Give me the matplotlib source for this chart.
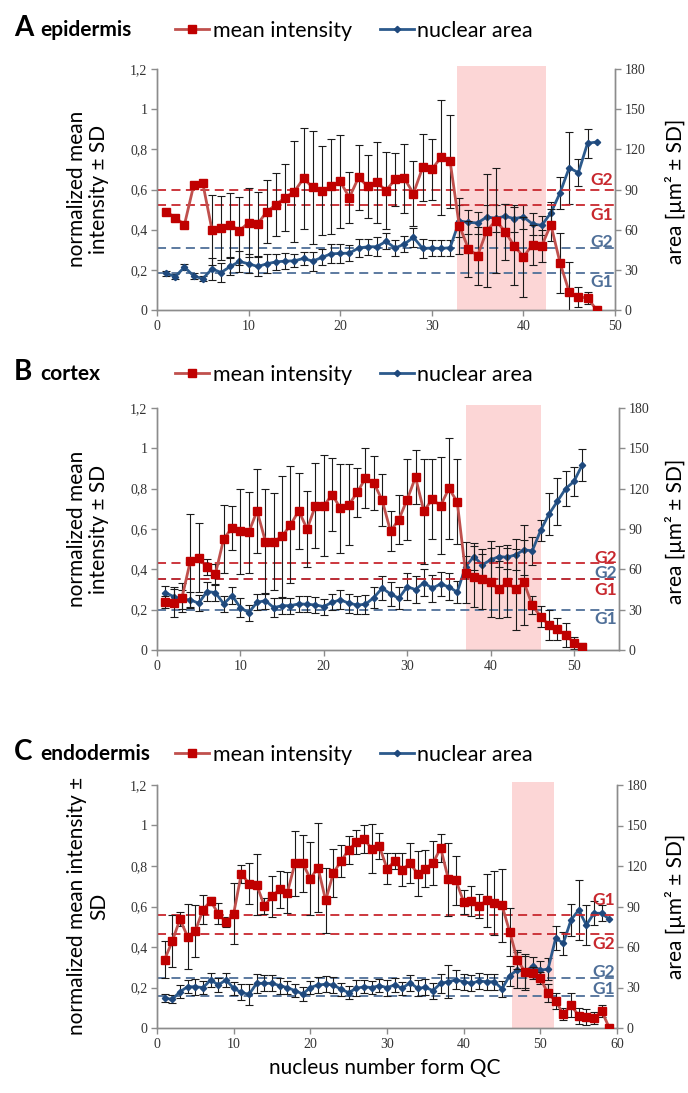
import numpy as np
import matplotlib
matplotlib.use("Agg")
import matplotlib.pyplot as plt
from matplotlib.ticker import FuncFormatter, MultipleLocator
import matplotlib.transforms as mtransforms

plt.rcParams['font.family'] = ['Lato', 'DejaVu Sans']

# ---- A epidermis ----
int_A = [0.49, 0.46, 0.425, 0.62, 0.63, 0.40, 0.41, 0.425, 0.395, 0.435,
         0.43, 0.49, 0.525, 0.56, 0.59, 0.655, 0.61, 0.595, 0.615, 0.64,
         0.56, 0.66, 0.615, 0.635, 0.595, 0.65, 0.655, 0.58, 0.71, 0.70,
         0.76, 0.74, 0.42, 0.305, 0.27, 0.395, 0.445, 0.39, 0.32, 0.265,
         0.325, 0.32, 0.425, 0.235, 0.09, 0.065, 0.06, 0.0]
int_sd_A = [0, 0, 0, 0, 0, 0.175, 0.16, 0.16, 0.17, 0.17,
            0.16, 0.155, 0.155, 0.165, 0.25, 0.25, 0.28, 0.22, 0.235, 0.23,
            0.125, 0.16, 0.155, 0.2, 0.19, 0.13, 0.17, 0.16, 0.165, 0.15,
            0.285, 0.23, 0.14, 0.14, 0.145, 0.28, 0.26, 0.14, 0.195, 0.2,
            0.1, 0.08, 0.08, 0.15, 0.15, 0.05, 0.03, 0]
area_A = [27.3, 25, 32, 25.5, 23.3, 30.75, 28, 32.5, 36.25, 34.5,
          32.5, 34.5, 36, 36.5, 36.75, 38.5, 36.5, 39.25, 42, 42.25,
          42.5, 46.25, 47.25, 47.25, 51.25, 46.25, 49.25, 54.25, 46, 46.25,
          46, 46.5, 66.5, 65.5, 65, 69.5, 68.5, 70, 68.25, 69.5,
          64.25, 63.25, 72.5, 87.5, 106.25, 102.5, 124.5, 125.5]
area_sd_A = [2, 2, 2, 2, 2, 8, 7, 6, 8, 7, 7, 7, 6, 6, 5, 5, 7, 6, 7, 7,
             6, 7, 6, 7, 6, 6, 6, 7, 7, 6, 6, 6, 12, 9, 8, 9, 10, 9, 10, 9,
             8, 7, 8, 12, 27, 10, 11, 0]
thr_A = {'int': (0.6, 0.525), 'area': (46.5, 27.75)}   # (G2, G1)
zone_A = (32.7, 42.5)

# ---- B cortex ----
int_B = [0.237, 0.232, 0.26, 0.442, 0.458, 0.41, 0.376, 0.551, 0.606, 0.588,
         0.583, 0.69, 0.538, 0.538, 0.563, 0.62, 0.69, 0.6, 0.715, 0.715,
         0.77, 0.703, 0.72, 0.781, 0.852, 0.828, 0.743, 0.589, 0.647, 0.746,
         0.857, 0.688, 0.748, 0.715, 0.801, 0.735, 0.384, 0.364, 0.353, 0.336,
         0.301, 0.336, 0.301, 0.336, 0.222, 0.166, 0.124, 0.103, 0.075, 0.036, 0.017]
int_sd_B = [0.03, 0.07, 0.07, 0.23, 0.17, 0.04, 0.05, 0.17, 0.11, 0.21,
            0.2, 0.21, 0.26, 0.24, 0.3, 0.29, 0.19, 0.19, 0.21, 0.25,
            0.18, 0.22, 0.2, 0.12, 0.15, 0.135, 0.13, 0.1, 0.12, 0.2,
            0.135, 0.26, 0.2, 0.24, 0.25, 0.21, 0.15, 0.15, 0.15, 0.17,
            0.14, 0.17, 0.2, 0.21, 0.045, 0.05, 0.075, 0.055, 0.06, 0.03, 0.02]
area_B = [42.7, 39.7, 37.8, 37.3, 34.8, 43.5, 42.7, 34.3, 40.5, 31.5,
          27.8, 35.5, 36.7, 31.5, 33, 33, 34.3, 34, 33.5, 32.3,
          35.5, 37.3, 34.8, 33.5, 34, 39, 46, 41.7, 38.5, 47,
          45, 50, 46, 49, 47, 43, 62, 69.5, 63.3, 67,
          69.5, 69, 70.8, 74.5, 73.8, 88.9, 101, 110.5, 120, 125.4, 137.8]
area_sd_B = [5, 7, 7, 6, 6, 7, 6, 6, 6, 7, 6, 6, 6, 7, 6, 6, 6, 6, 6, 6,
             6, 7, 7, 7, 7, 8, 9, 9, 8, 10, 10, 10, 10, 9, 10, 8, 8, 10, 8, 14,
             7.5, 9, 11.5, 18.6, 10.5, 8, 15.5, 17.6, 12.8, 11, 12]
thr_B = {'int': (0.43, 0.35), 'area': (52.5, 30)}
zone_B = (37.0, 46.0)

# ---- C endodermis ----
int_C = [0.338, 0.43, 0.537, 0.45, 0.479, 0.585, 0.626, 0.565, 0.524, 0.565,
         0.762, 0.713, 0.708, 0.603, 0.65, 0.685, 0.668, 0.814, 0.814, 0.737,
         0.792, 0.63, 0.765, 0.824, 0.88, 0.918, 0.934, 0.885, 0.898, 0.787,
         0.823, 0.782, 0.814, 0.762, 0.787, 0.814, 0.89, 0.735, 0.729, 0.622,
         0.626, 0.603, 0.63, 0.617, 0.606, 0.475, 0.338, 0.277, 0.272, 0.245,
         0.171, 0.133, 0.069, 0.113, 0.061, 0.056, 0.05, 0.084, 0.0]
int_sd_C = [0.09, 0.13, 0.035, 0.16, 0.13, 0.07, 0.02, 0.05, 0.025, 0.15,
            0.045, 0.1, 0.15, 0.04, 0.1, 0.09, 0.1, 0.16, 0.14, 0.18,
            0.22, 0.16, 0.12, 0.08, 0.07, 0.06, 0.07, 0.12, 0.065, 0.075,
            0.04, 0.08, 0.1, 0.11, 0.09, 0.11, 0.07, 0.18, 0.12, 0.06,
            0.075, 0.06, 0.13, 0.16, 0.18, 0.12, 0.045, 0.09, 0.03, 0.03,
            0.045, 0.04, 0.03, 0.06, 0.04, 0.04, 0.03, 0.03, 0]
area_C = [22, 21.3, 26.9, 30.6, 30.6, 29.9, 35.6, 31.9, 35.6, 29.4,
          26.4, 24.9, 33.1, 33.1, 33.1, 31.4, 29.9, 27.7, 25.2, 29.9,
          31.9, 32.4, 31.9, 28.7, 26.2, 29.4, 30.6, 29.9, 31.4, 29.9,
          31.9, 29.4, 33.6, 29.4, 30.1, 27.7, 33.1, 34.3, 35.6, 34.3,
          33.1, 34.8, 34.3, 34.3, 29, 38.8, 43, 41.7, 45.9, 43,
          43.5, 66.5, 62.8, 80, 87.4, 76.3, 85, 85, 80.5]
area_sd_C = [3, 3, 5, 5, 6, 5, 5, 5, 5, 5, 6, 8, 7, 6, 6, 6, 5, 5, 5, 5,
             6, 6, 6, 5, 5, 6, 5, 5, 5, 6, 5, 5, 6, 6, 6, 6, 7, 12, 7, 6,
             6, 6, 6, 6, 6, 7.4, 13, 12, 7, 7, 8, 9, 8.6, 12, 22.5, 15, 9, 6, 0]
thr_C = {'int': (0.466, 0.557), 'area': (37.2, 23.6)}
zone_C = (46.3, 51.8)

RED_LINE = '#C0504D'
RED_MK = '#C00000'
BLUE_LINE = '#2C5A8C'
BLUE_MK = '#1F497D'
RED_DASH = '#C8282E'
BLUE_DASH = '#4F6F98'
PINK = '#FCD6D6'
SPINE = '#8C8C8C'

fig = plt.figure(figsize=(6.88, 10.93), dpi=100)
W, H = 688, 1093


def pbox(l, t, r, b):
    return [l / W, 1 - b / H, (r - l) / W, (b - t) / H]


def comma(v, pos):
    if abs(v) < 1e-9:
        return '0'
    if abs(v - 1) < 1e-9:
        return '1'
    return f'{v:.1f}'.replace('.', ',')


def panel(box, xmax, intensity, int_sd, area, area_sd, thr, zone, glabels):
    ax = fig.add_axes(box)
    ax2 = ax.twinx()
    ax.set_zorder(ax2.get_zorder() + 1)
    ax.patch.set_visible(False)

    x = np.arange(1, len(intensity) + 1)
    intensity = np.array(intensity)
    int_sd = np.array(int_sd)
    area = np.array(area)
    area_sd = np.array(area_sd)

    ax2.axvspan(zone[0], zone[1], ymin=0, ymax=1.012, color=PINK, lw=0,
                zorder=0, clip_on=False)

    # thresholds
    for v in thr['area']:
        ax2.axhline(v, color=BLUE_DASH, ls=(0, (5, 3)), lw=1.3, zorder=1)
    for v in thr['int']:
        ax.axhline(v, color=RED_DASH, ls=(0, (5, 3)), lw=1.3, zorder=1)

    # nuclear area (right axis)
    m = area_sd > 0
    ax2.errorbar(x[m], area[m], yerr=area_sd[m], fmt='none', ecolor='#1a1a1a',
                 elinewidth=0.8, capsize=3.2, capthick=0.8, zorder=2)
    ax2.plot(x, area, color=BLUE_LINE, lw=2.0, marker='D', ms=3.2,
             mfc=BLUE_MK, mec=BLUE_MK, zorder=3)

    # mean intensity (left axis)
    m = int_sd > 0
    ax.errorbar(x[m], intensity[m], yerr=int_sd[m], fmt='none', ecolor='#1a1a1a',
                elinewidth=0.8, capsize=3.2, capthick=0.8, zorder=2)
    ax.plot(x, intensity, color=RED_LINE, lw=2.0, marker='s', ms=5.2,
            mfc=RED_MK, mec=RED_MK, zorder=3)

    ax.set_xlim(0, xmax)
    ax.set_ylim(0, 1.2)
    ax2.set_ylim(0, 180)
    ax.xaxis.set_major_locator(MultipleLocator(10))
    ax.yaxis.set_major_locator(MultipleLocator(0.2))
    ax.yaxis.set_major_formatter(FuncFormatter(comma))
    ax2.yaxis.set_major_locator(MultipleLocator(30))

    for a in (ax, ax2):
        a.spines['top'].set_visible(False)
        for s in ('left', 'right', 'bottom'):
            a.spines[s].set_color(SPINE)
            a.spines[s].set_linewidth(1.0)
        a.tick_params(colors=SPINE, length=4, width=1.0, labelsize=10,
                      labelcolor='#333333', pad=3)
        for lab in a.get_xticklabels() + a.get_yticklabels():
            lab.set_family('Liberation Serif')

    # G labels
    tr1 = mtransforms.blended_transform_factory(ax.transAxes, ax.transData)
    tr2 = mtransforms.blended_transform_factory(ax2.transAxes, ax2.transData)
    for txt, axis, yv in glabels:
        if axis == 'int':
            ax.text(0.995, yv, txt, transform=tr1, ha='right', va='center',
                    color=RED_DASH, fontsize=12.5, fontweight='bold', zorder=5)
        else:
            ax.text(0.995, yv, txt, transform=tr2, ha='right', va='center',
                    color=BLUE_DASH, fontsize=12.5, fontweight='bold', zorder=5)
    return ax, ax2


axA = panel(pbox(157, 69, 615, 310), 50, int_A, int_sd_A, area_A, area_sd_A,
            thr_A, zone_A,
            [('G2', 'int', 0.645), ('G1', 'int', 0.475),
             ('G2', 'area', 51), ('G1', 'area', 21)])
axB = panel(pbox(157, 408, 619, 650), 55.4, int_B, int_sd_B, area_B, area_sd_B,
            thr_B, zone_B,
            [('G2', 'int', 0.457), ('G1', 'int', 0.298),
             ('G2', 'area', 57.4), ('G1', 'area', 23.1)])
axC = panel(pbox(157, 785, 617, 1028), 60, int_C, int_sd_C, area_C, area_sd_C,
            thr_C, zone_C,
            [('G1', 'int', 0.631), ('G2', 'int', 0.414),
             ('G2', 'area', 41.5), ('G1', 'area', 28.9)])

# headers and legends
headers = [('A', 'epidermis', 28), ('B', 'cortex', 372), ('C', 'endodermis', 752)]
for letter, name, yc in headers:
    fig.text(14 / W, 1 - yc / H, letter, fontsize=20, fontweight='bold',
             ha='left', va='center')
    fig.text(40 / W, 1 - (yc + 2) / H, name, fontsize=15, fontweight='bold',
             ha='left', va='center')
    h_red = plt.Line2D([], [], color=RED_LINE, lw=2.0, marker='s', ms=5.2,
                       mfc=RED_MK, mec=RED_MK)
    h_blue = plt.Line2D([], [], color=BLUE_LINE, lw=2.0, marker='D', ms=3.2,
                        mfc=BLUE_MK, mec=BLUE_MK)
    fig.legend([h_red, h_blue], ['mean intensity', 'nuclear area'],
               loc='center left', bbox_to_anchor=(175 / W, 1 - (yc + 3) / H),
               ncol=2, frameon=False, fontsize=15.5, handlelength=1.6,
               handletextpad=0.15, columnspacing=1.3, borderpad=0,
               borderaxespad=0, numpoints=1)

# axis labels
ylab_kw = dict(rotation=90, ha='center', va='center', fontsize=15,
               linespacing=1.1)
fig.text(88 / W, 1 - 189 / H, 'normalized mean\nintensity ± SD', **ylab_kw)
fig.text(88 / W, 1 - 529 / H, 'normalized mean\nintensity ± SD', **ylab_kw)
fig.text(88 / W, 1 - 906 / H, 'normalized mean intensity ±\nSD', **ylab_kw)
for yc in (191, 531, 906):
    fig.text(675 / W, 1 - yc / H, 'area [µm² ± SD]', **ylab_kw)
fig.text(385 / W, 1 - 1068 / H, 'nucleus number form QC', ha='center',
         va='center', fontsize=15)

fig.savefig('out.png', dpi=100, facecolor='white')
